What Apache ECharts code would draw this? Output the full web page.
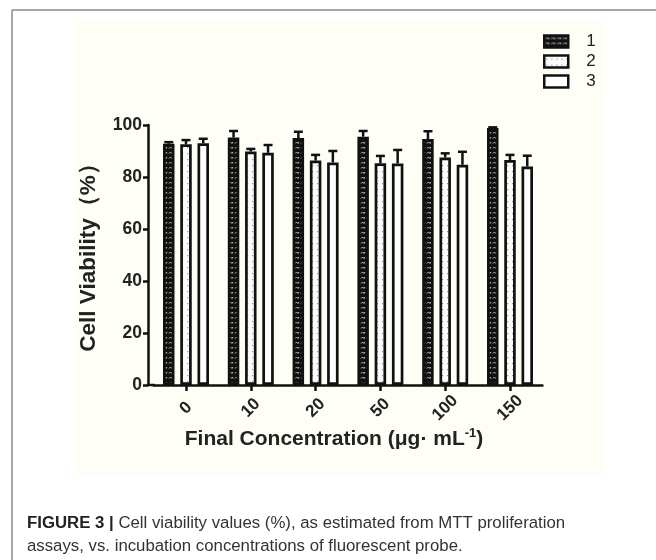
<!DOCTYPE html>
<html><head><meta charset="utf-8">
<script src="https://cdn.jsdelivr.net/npm/echarts@6/dist/echarts.min.js"></script>
<style>html,body{margin:0;padding:0;background:#fff;}#c{width:656px;height:560px;}</style>
</head><body><div id="c"></div>
<script>
// ---- data ----
const categories = ['0', '10', '20', '50', '100', '150'];
const seriesNames = ['1', '2', '3'];
const values1 = [92.8, 95.2, 95.0, 95.5, 94.6, 98.8];
const values2 = [92.6, 89.8, 86.3, 85.3, 87.5, 86.5];
const values3 = [93.0, 89.3, 85.6, 85.2, 84.7, 84.0];
const errors1 = [0.6, 2.5, 2.4, 2.2, 3.0, 0.3];
const errors2 = [1.6, 1.0, 2.2, 2.8, 1.6, 2.0];
const errors3 = [1.7, 3.0, 4.4, 5.2, 5.0, 4.2];
const yTickValues = [0, 20, 40, 60, 80, 100];

const FONT = "'Liberation Sans', Arial, sans-serif";
const BAR_W = 11.5;
const BAR_STEP = BAR_W * 1.5;

function makePattern(kind) {
  const cv = document.createElement('canvas');
  const ctx = cv.getContext('2d');
  if (kind === 1) {
    cv.width = 6; cv.height = 5;
    ctx.fillStyle = '#111111'; ctx.fillRect(0, 0, 6, 5);
    ctx.strokeStyle = '#c8c8c8'; ctx.lineWidth = 1;
    ctx.beginPath(); ctx.moveTo(1, 3.5); ctx.lineTo(2.5, 2); ctx.lineTo(4, 3.5); ctx.lineTo(5, 2); ctx.stroke();
  } else {
    cv.width = 5; cv.height = 6;
    ctx.fillStyle = '#fbfbfb'; ctx.fillRect(0, 0, 5, 6);
    ctx.fillStyle = '#9a9a9a'; ctx.fillRect(2, 3, 1.2, 1.2);
  }
  return { image: cv, repeat: 'repeat' };
}
const fills = [makePattern(1), makePattern(2), '#ffffff'];
const valueSets = [values1, values2, values3];
const errorSets = [errors1, errors2, errors3];

const chart = echarts.init(document.getElementById('c'), null, { renderer: 'canvas' });

function errRender(idx) {
  return function (params, api) {
    const c = api.value(0), v = api.value(1), e = api.value(2);
    const base = api.coord([c, v]);
    const top = api.coord([c, v + e]);
    const x = base[0] + (idx - 1) * BAR_STEP;
    const st = { stroke: '#111', lineWidth: 2.5 };
    return {
      type: 'group',
      children: [
        { type: 'line', shape: { x1: x, y1: base[1], x2: x, y2: top[1] }, style: st },
        { type: 'line', shape: { x1: x - 4.5, y1: top[1], x2: x + 4.5, y2: top[1] }, style: st }
      ]
    };
  };
}

const series = [];
seriesNames.forEach((n, i) => {
  series.push({
    name: n, type: 'bar', barWidth: BAR_W, barGap: '50%',
    data: valueSets[i],
    itemStyle: { color: fills[i], borderColor: '#111', borderWidth: 2.7 },
    z: 2
  });
});
seriesNames.forEach((n, i) => {
  series.push({
    name: 'err' + n, type: 'custom', z: 3,
    renderItem: errRender(i),
    data: valueSets[i].map((v, k) => [k, v, errorSets[i][k]])
  });
});

const captionGraphic = {
  type: 'text', left: 27, top: 512,
  style: {
    text: '{b|FIGURE 3 |} Cell viability values (%), as estimated from MTT proliferation\nassays, vs. incubation concentrations of fluorescent probe.',
    fontFamily: FONT, fontSize: 16.8, fill: '#333', lineHeight: 23,
    rich: { b: { fontFamily: FONT, fontSize: 16.8, fontWeight: 'bold', fill: '#222', lineHeight: 23 } }
  }
};
const baseGraphics = [
  { type: 'rect', z: -10, silent: true, shape: { x: 75, y: 20, width: 530, height: 455 }, style: { fill: '#fefef7' } },
  { type: 'line', shape: { x1: 12, y1: 10, x2: 656, y2: 10 }, style: { stroke: '#8a8a8a', lineWidth: 1.5 } },
  { type: 'line', shape: { x1: 12, y1: 10, x2: 12, y2: 560 }, style: { stroke: '#8a8a8a', lineWidth: 1.5 } },
  captionGraphic
];

const option = {
  backgroundColor: '#ffffff',
  animation: false,
  textStyle: { fontFamily: FONT },
  grid: { left: 153.6, right: 113.6, top: 125, bottom: 175, containLabel: false },
  legend: {
    data: seriesNames, orient: 'vertical', left: 543, top: 33, padding: 0,
    icon: 'rect', itemWidth: 24, itemHeight: 12, itemGap: 3,
    itemStyle: { borderWidth: 2.5, borderColor: '#111' },
    textStyle: { fontFamily: FONT, fontSize: 17, color: '#222', padding: [0, 0, 0, 13] }
  },
  xAxis: {
    type: 'category', data: categories,
    axisLine: { show: true, lineStyle: { color: '#111', width: 2.5 } },
    axisTick: { show: true, alignWithLabel: true, length: 6, lineStyle: { color: '#111', width: 2.5 } },
    axisLabel: {
      rotate: 45, fontFamily: FONT, fontWeight: 'bold', fontSize: 17, color: '#222', margin: 23,
      align: 'center', verticalAlign: 'middle'
    },
    name: 'Final Concentration (μg· mL{sup|-1})',
    nameLocation: 'middle', nameGap: 41,
    nameTextStyle: {
      fontFamily: FONT, fontWeight: 'bold', fontSize: 21, color: '#222', lineHeight: 25,
      padding: [0, 28, 0, 0],
      rich: { sup: { fontFamily: FONT, fontWeight: 'bold', fontSize: 13, lineHeight: 14, verticalAlign: 'top', color: '#222' } }
    }
  },
  yAxis: {
    type: 'value', min: 0, max: 100, interval: 20, offset: 5.6,
    axisLine: { show: true, lineStyle: { color: '#111', width: 2.5 } },
    axisTick: { show: true, length: 5, lineStyle: { color: '#111', width: 2.5 } },
    splitLine: { show: false },
    axisLabel: {
      fontFamily: FONT, fontWeight: 'bold', fontSize: 17.5, color: '#222', margin: 6,
      formatter: v => (yTickValues.indexOf(v) >= 0 ? String(v) : '')
    },
    name: 'Cell Viability（%）', nameLocation: 'middle', nameGap: 48, nameRotate: 90,
    nameTextStyle: { fontFamily: FONT, fontWeight: 'bold', fontSize: 22.5, color: '#222', padding: [0, 0, 0, 6] }
  },
  graphic: baseGraphics,
  series: series
};
chart.setOption(option);

// extend baseline to meet the offset y axis
const y0 = chart.convertToPixel({ yAxisIndex: 0 }, 0);
chart.setOption({
  graphic: baseGraphics.concat([
    { type: 'line', z: 5, shape: { x1: 146.8, y1: y0, x2: 155, y2: y0 }, style: { stroke: '#111', lineWidth: 2.5 } }
  ])
});
</script>
</body></html>
